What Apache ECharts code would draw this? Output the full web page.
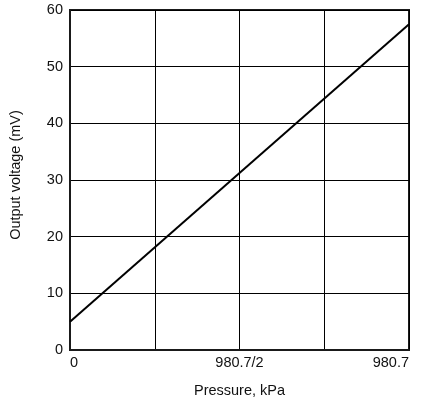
<!DOCTYPE html>
<html>
<head>
<meta charset="utf-8">
<script src="https://cdn.jsdelivr.net/npm/echarts@6/dist/echarts.min.js"></script>
<style>html,body{margin:0;padding:0;background:#fff}#c{width:429px;height:404px}</style>
</head>
<body>
<div id="c"></div>
<script>
var xTicks = [0, 245.175, 490.35, 735.525, 980.7];
var xTickLabels = ['0', '', '980.7/2', '', '980.7'];
var pressure = [0, 980.7];
var voltage = [5.0, 57.5];

var chart = echarts.init(document.getElementById('c'), null, {renderer: 'canvas'});
chart.setOption({
  animation: false,
  grid: {left: 70, right: 20, top: 10, bottom: 54, show: true, borderColor: '#1a1a1a', borderWidth: 2, backgroundColor: 'transparent'},
  xAxis: {
    type: 'value', min: xTicks[0], max: xTicks[xTicks.length - 1], interval: xTicks[1] - xTicks[0],
    name: 'Pressure, kPa', nameLocation: 'middle', nameGap: 33,
    nameTextStyle: {fontFamily: 'Liberation Sans', fontSize: 14.5, color: '#111'},
    axisLine: {show: true, lineStyle: {color: '#1a1a1a', width: 2}},
    axisTick: {show: false},
    splitLine: {show: true, lineStyle: {color: '#000', width: 1}},
    axisLabel: {
      fontFamily: 'Liberation Sans', fontSize: 14.5, color: '#111', margin: 5,
      alignMinLabel: 'left', alignMaxLabel: 'right', showMinLabel: true, showMaxLabel: true,
      formatter: function (v) {
        var best = 0, d = Infinity;
        for (var i = 0; i < xTicks.length; i++) { var dd = Math.abs(xTicks[i] - v); if (dd < d) { d = dd; best = i; } }
        return xTickLabels[best];
      }
    }
  },
  yAxis: {
    type: 'value', min: 0, max: 60, interval: 10,
    name: 'Output voltage (mV)', nameLocation: 'middle', nameGap: 47,
    nameTextStyle: {fontFamily: 'Liberation Sans', fontSize: 14.5, color: '#111', padding: [0, 0, 0, 10]},
    axisLine: {show: true, lineStyle: {color: '#1a1a1a', width: 2}},
    axisTick: {show: false},
    splitLine: {show: true, lineStyle: {color: '#000', width: 1}},
    axisLabel: {fontFamily: 'Liberation Sans', fontSize: 14.5, color: '#111', margin: 7}
  },
  series: [{
    type: 'line', data: pressure.map(function (p, i) { return [p, voltage[i]]; }),
    showSymbol: false, symbol: 'none',
    lineStyle: {color: '#000', width: 2}
  }]
});
</script>
</body>
</html>
